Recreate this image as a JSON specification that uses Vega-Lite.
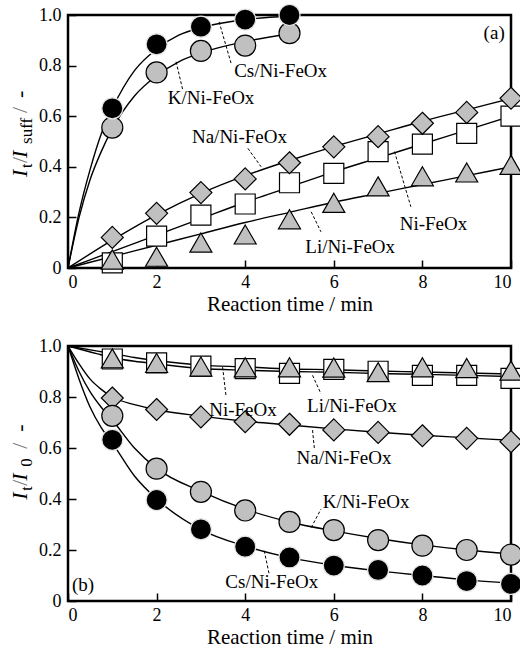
{
  "$schema": "https://vega.github.io/schema/vega-lite/v6.json",
  "padding": {"left": 7, "top": 0, "right": 0, "bottom": 0},
  "background": "white",
  "spacing": 19,
  "config": {
    "font": "Liberation Serif",
    "view": {"stroke": "black", "strokeWidth": 2.5},
    "axis": {
      "grid": false, "domain": false,
      "tickColor": "black", "tickWidth": 1.5, "tickSize": -8,
      "labelFont": "Liberation Serif", "labelFontSize": 18, "labelColor": "black",
      "titleFont": "Liberation Serif", "titleFontSize": 21, "titleFontWeight": "normal", "titleColor": "black", "titlePadding": 2
    },
    "axisX": {"labelPadding": 13},
    "axisY": {"labelPadding": 15},
    "text": {"font": "Liberation Serif", "color": "black"}
  },
  "datasets": {
    "pa": [
      {"t":1,"v":0.02,"s":"Ni"},{"t":2,"v":0.126,"s":"Ni"},{"t":3,"v":0.209,"s":"Ni"},{"t":4,"v":0.253,"s":"Ni"},{"t":5,"v":0.337,"s":"Ni"},{"t":6,"v":0.374,"s":"Ni"},{"t":7,"v":0.46,"s":"Ni"},{"t":8,"v":0.49,"s":"Ni"},{"t":9,"v":0.532,"s":"Ni"},{"t":10,"v":0.6,"s":"Ni"},
      {"t":1,"v":0.021,"s":"Li"},{"t":2,"v":0.032,"s":"Li"},{"t":3,"v":0.088,"s":"Li"},{"t":4,"v":0.12,"s":"Li"},{"t":5,"v":0.18,"s":"Li"},{"t":6,"v":0.245,"s":"Li"},{"t":7,"v":0.31,"s":"Li"},{"t":8,"v":0.35,"s":"Li"},{"t":9,"v":0.365,"s":"Li"},{"t":10,"v":0.395,"s":"Li"},
      {"t":1,"v":0.121,"s":"Na"},{"t":2,"v":0.216,"s":"Na"},{"t":3,"v":0.298,"s":"Na"},{"t":4,"v":0.352,"s":"Na"},{"t":5,"v":0.416,"s":"Na"},{"t":6,"v":0.479,"s":"Na"},{"t":7,"v":0.519,"s":"Na"},{"t":8,"v":0.572,"s":"Na"},{"t":9,"v":0.615,"s":"Na"},{"t":10,"v":0.671,"s":"Na"},
      {"t":1,"v":0.555,"s":"K"},{"t":2,"v":0.773,"s":"K"},{"t":3,"v":0.858,"s":"K"},{"t":4,"v":0.879,"s":"K"},{"t":5,"v":0.928,"s":"K"},
      {"t":1,"v":0.631,"s":"Cs"},{"t":2,"v":0.884,"s":"Cs"},{"t":3,"v":0.954,"s":"Cs"},{"t":4,"v":0.982,"s":"Cs"},{"t":5,"v":1.0,"s":"Cs"}
    ],
    "la": [
      {"t":0,"v":0,"s":"Cs"},{"t":0.25,"v":0.22,"s":"Cs"},{"t":0.5,"v":0.39,"s":"Cs"},{"t":0.75,"v":0.53,"s":"Cs"},{"t":1,"v":0.63,"s":"Cs"},{"t":1.5,"v":0.78,"s":"Cs"},{"t":2,"v":0.865,"s":"Cs"},{"t":2.5,"v":0.92,"s":"Cs"},{"t":3,"v":0.95,"s":"Cs"},{"t":4,"v":0.982,"s":"Cs"},{"t":5,"v":0.995,"s":"Cs"},
      {"t":0,"v":0,"s":"K"},{"t":0.25,"v":0.2,"s":"K"},{"t":0.5,"v":0.35,"s":"K"},{"t":0.75,"v":0.46,"s":"K"},{"t":1,"v":0.55,"s":"K"},{"t":1.5,"v":0.68,"s":"K"},{"t":2,"v":0.76,"s":"K"},{"t":2.5,"v":0.815,"s":"K"},{"t":3,"v":0.85,"s":"K"},{"t":4,"v":0.895,"s":"K"},{"t":5,"v":0.925,"s":"K"},
      {"t":0,"v":0,"s":"Na"},{"t":1,"v":0.11,"s":"Na"},{"t":2,"v":0.21,"s":"Na"},{"t":3,"v":0.295,"s":"Na"},{"t":4,"v":0.365,"s":"Na"},{"t":5,"v":0.425,"s":"Na"},{"t":6,"v":0.48,"s":"Na"},{"t":7,"v":0.53,"s":"Na"},{"t":8,"v":0.58,"s":"Na"},{"t":9,"v":0.625,"s":"Na"},{"t":10,"v":0.67,"s":"Na"},
      {"t":0,"v":0,"s":"Ni"},{"t":1,"v":0.065,"s":"Ni"},{"t":2,"v":0.13,"s":"Ni"},{"t":3,"v":0.195,"s":"Ni"},{"t":4,"v":0.26,"s":"Ni"},{"t":5,"v":0.32,"s":"Ni"},{"t":6,"v":0.38,"s":"Ni"},{"t":7,"v":0.435,"s":"Ni"},{"t":8,"v":0.49,"s":"Ni"},{"t":9,"v":0.545,"s":"Ni"},{"t":10,"v":0.6,"s":"Ni"},
      {"t":0,"v":0,"s":"Li"},{"t":1,"v":0.045,"s":"Li"},{"t":2,"v":0.09,"s":"Li"},{"t":3,"v":0.135,"s":"Li"},{"t":4,"v":0.18,"s":"Li"},{"t":5,"v":0.22,"s":"Li"},{"t":6,"v":0.26,"s":"Li"},{"t":7,"v":0.295,"s":"Li"},{"t":8,"v":0.33,"s":"Li"},{"t":9,"v":0.365,"s":"Li"},{"t":10,"v":0.4,"s":"Li"}
    ],
    "ta": [
      {"t":4.8,"v":0.78,"label":"Cs/Ni-FeOx"},
      {"t":3.23,"v":0.67,"label":"K/Ni-FeOx"},
      {"t":3.87,"v":0.519,"label":"Na/Ni-FeOx"},
      {"t":8.25,"v":0.174,"label":"Ni-FeOx"},
      {"t":6.37,"v":0.082,"label":"Li/Ni-FeOx"},
      {"t":9.62,"v":0.928,"label":"(a)"}
    ],
    "da": [
      {"t":3.41,"v":0.973,"t2":3.68,"v2":0.81},
      {"t":2.44,"v":0.815,"t2":2.59,"v2":0.704},
      {"t":4.06,"v":0.473,"t2":4.36,"v2":0.4},
      {"t":7.37,"v":0.46,"t2":7.74,"v2":0.242},
      {"t":5.49,"v":0.222,"t2":5.71,"v2":0.143}
    ],
    "pb": [
      {"t":1,"v":0.949,"s":"Ni"},{"t":2,"v":0.934,"s":"Ni"},{"t":3,"v":0.921,"s":"Ni"},{"t":4,"v":0.911,"s":"Ni"},{"t":5,"v":0.893,"s":"Ni"},{"t":6,"v":0.908,"s":"Ni"},{"t":7,"v":0.901,"s":"Ni"},{"t":8,"v":0.885,"s":"Ni"},{"t":9,"v":0.885,"s":"Ni"},{"t":10,"v":0.873,"s":"Ni"},
      {"t":1,"v":0.939,"s":"Li"},{"t":2,"v":0.921,"s":"Li"},{"t":3,"v":0.907,"s":"Li"},{"t":4,"v":0.904,"s":"Li"},{"t":5,"v":0.904,"s":"Li"},{"t":6,"v":0.903,"s":"Li"},{"t":7,"v":0.885,"s":"Li"},{"t":8,"v":0.904,"s":"Li"},{"t":9,"v":0.901,"s":"Li"},{"t":10,"v":0.891,"s":"Li"},
      {"t":1,"v":0.796,"s":"Na"},{"t":2,"v":0.751,"s":"Na"},{"t":3,"v":0.722,"s":"Na"},{"t":4,"v":0.703,"s":"Na"},{"t":5,"v":0.693,"s":"Na"},{"t":6,"v":0.671,"s":"Na"},{"t":7,"v":0.661,"s":"Na"},{"t":8,"v":0.648,"s":"Na"},{"t":9,"v":0.638,"s":"Na"},{"t":10,"v":0.625,"s":"Na"},
      {"t":1,"v":0.726,"s":"K"},{"t":2,"v":0.519,"s":"K"},{"t":3,"v":0.428,"s":"K"},{"t":4,"v":0.355,"s":"K"},{"t":5,"v":0.31,"s":"K"},{"t":6,"v":0.278,"s":"K"},{"t":7,"v":0.239,"s":"K"},{"t":8,"v":0.217,"s":"K"},{"t":9,"v":0.2,"s":"K"},{"t":10,"v":0.182,"s":"K"},
      {"t":1,"v":0.632,"s":"Cs"},{"t":2,"v":0.396,"s":"Cs"},{"t":3,"v":0.281,"s":"Cs"},{"t":4,"v":0.213,"s":"Cs"},{"t":5,"v":0.171,"s":"Cs"},{"t":6,"v":0.139,"s":"Cs"},{"t":7,"v":0.122,"s":"Cs"},{"t":8,"v":0.1,"s":"Cs"},{"t":9,"v":0.078,"s":"Cs"},{"t":10,"v":0.067,"s":"Cs"}
    ],
    "lb": [
      {"t":0,"v":1,"s":"Li"},{"t":0.67,"v":0.98,"s":"Li"},{"t":1,"v":0.97,"s":"Li"},{"t":1.5,"v":0.955,"s":"Li"},{"t":2,"v":0.943,"s":"Li"},{"t":3,"v":0.925,"s":"Li"},{"t":4,"v":0.918,"s":"Li"},{"t":5,"v":0.91,"s":"Li"},{"t":6,"v":0.907,"s":"Li"},{"t":7,"v":0.902,"s":"Li"},{"t":8,"v":0.898,"s":"Li"},{"t":9,"v":0.894,"s":"Li"},{"t":10,"v":0.89,"s":"Li"},
      {"t":0,"v":1,"s":"Ni"},{"t":0.67,"v":0.969,"s":"Ni"},{"t":1,"v":0.955,"s":"Ni"},{"t":1.5,"v":0.94,"s":"Ni"},{"t":2,"v":0.93,"s":"Ni"},{"t":3,"v":0.912,"s":"Ni"},{"t":4,"v":0.905,"s":"Ni"},{"t":5,"v":0.9,"s":"Ni"},{"t":6,"v":0.897,"s":"Ni"},{"t":7,"v":0.892,"s":"Ni"},{"t":8,"v":0.889,"s":"Ni"},{"t":9,"v":0.885,"s":"Ni"},{"t":10,"v":0.88,"s":"Ni"},
      {"t":0,"v":1,"s":"Na"},{"t":0.25,"v":0.93,"s":"Na"},{"t":0.5,"v":0.87,"s":"Na"},{"t":0.75,"v":0.83,"s":"Na"},{"t":1,"v":0.8,"s":"Na"},{"t":1.5,"v":0.77,"s":"Na"},{"t":2,"v":0.75,"s":"Na"},{"t":3,"v":0.725,"s":"Na"},{"t":4,"v":0.705,"s":"Na"},{"t":5,"v":0.69,"s":"Na"},{"t":6,"v":0.675,"s":"Na"},{"t":7,"v":0.662,"s":"Na"},{"t":8,"v":0.65,"s":"Na"},{"t":9,"v":0.64,"s":"Na"},{"t":10,"v":0.63,"s":"Na"},
      {"t":0,"v":1,"s":"K"},{"t":0.25,"v":0.9,"s":"K"},{"t":0.5,"v":0.82,"s":"K"},{"t":0.75,"v":0.76,"s":"K"},{"t":1,"v":0.71,"s":"K"},{"t":1.5,"v":0.6,"s":"K"},{"t":2,"v":0.52,"s":"K"},{"t":3,"v":0.43,"s":"K"},{"t":4,"v":0.36,"s":"K"},{"t":5,"v":0.31,"s":"K"},{"t":6,"v":0.275,"s":"K"},{"t":7,"v":0.245,"s":"K"},{"t":8,"v":0.22,"s":"K"},{"t":9,"v":0.2,"s":"K"},{"t":10,"v":0.185,"s":"K"},
      {"t":0,"v":1,"s":"Cs"},{"t":0.25,"v":0.87,"s":"Cs"},{"t":0.5,"v":0.76,"s":"Cs"},{"t":0.75,"v":0.68,"s":"Cs"},{"t":1,"v":0.62,"s":"Cs"},{"t":1.5,"v":0.49,"s":"Cs"},{"t":2,"v":0.4,"s":"Cs"},{"t":3,"v":0.28,"s":"Cs"},{"t":4,"v":0.215,"s":"Cs"},{"t":5,"v":0.17,"s":"Cs"},{"t":6,"v":0.14,"s":"Cs"},{"t":7,"v":0.118,"s":"Cs"},{"t":8,"v":0.1,"s":"Cs"},{"t":9,"v":0.083,"s":"Cs"},{"t":10,"v":0.07,"s":"Cs"}
    ],
    "tb": [
      {"t":3.95,"v":0.748,"label":"Ni-FeOx"},
      {"t":6.41,"v":0.765,"label":"Li/Ni-FeOx"},
      {"t":6.23,"v":0.56,"label":"Na/Ni-FeOx"},
      {"t":6.73,"v":0.389,"label":"K/Ni-FeOx"},
      {"t":4.6,"v":0.074,"label":"Cs/Ni-FeOx"},
      {"t":0.34,"v":0.061,"label":"(b)"}
    ],
    "db": [
      {"t":3.49,"v":0.917,"t2":3.57,"v2":0.8},
      {"t":5.52,"v":0.885,"t2":5.71,"v2":0.813},
      {"t":5.52,"v":0.67,"t2":5.56,"v2":0.6},
      {"t":5.49,"v":0.288,"t2":5.71,"v2":0.36},
      {"t":4.43,"v":0.197,"t2":4.54,"v2":0.106}
    ],
    "ya": [
      {"t":-0.925,"v":0.36,"p":"I1"},{"t":-0.925,"v":0.36,"p":"t"},{"t":-0.925,"v":0.36,"p":"s1"},{"t":-0.925,"v":0.36,"p":"I2"},{"t":-0.925,"v":0.36,"p":"sub"},{"t":-0.925,"v":0.36,"p":"s2"},{"t":-0.925,"v":0.36,"p":"dash"}
    ],
    "yb": [
      {"t":-0.925,"v":0.397,"p":"I1"},{"t":-0.925,"v":0.397,"p":"t"},{"t":-0.925,"v":0.397,"p":"s1"},{"t":-0.925,"v":0.397,"p":"I2"},{"t":-0.925,"v":0.397,"p":"sub"},{"t":-0.925,"v":0.397,"p":"s2"},{"t":-0.925,"v":0.397,"p":"dash"}
    ]
  },
  "vconcat": [
    {
      "width": 443, "height": 253,
      "encoding": {
        "x": {"field": "t", "type": "quantitative", "scale": {"domain": [0, 10]}, "axis": {"values": [0, 2, 4, 6, 8, 10], "format": "d", "title": "Reaction time / min"}},
        "y": {"field": "v", "type": "quantitative", "scale": {"domain": [0, 1]}, "axis": {"values": [0, 0.2, 0.4, 0.6, 0.8, 1], "labelExpr": "datum.value == 0 ? '0' : format(datum.value, '.1f')", "title": null}}
      },
      "layer": [
        {"data": {"name": "la"}, "mark": {"type": "line", "color": "black", "strokeWidth": 1.4, "interpolate": "monotone"}, "encoding": {"detail": {"field": "s", "type": "nominal"}}},
        {"data": {"name": "da"}, "mark": {"type": "rule", "color": "black", "strokeWidth": 1, "strokeDash": [3, 2]}, "encoding": {"x2": {"field": "t2"}, "y2": {"field": "v2"}}},
        {"data": {"name": "pa"}, "mark": {"type": "point", "filled": true, "opacity": 1, "size": 484, "strokeWidth": 1.2},
          "encoding": {
            "shape": {"field": "s", "type": "nominal", "legend": null, "scale": {"domain": ["Cs", "K", "Na", "Ni", "Li"], "range": ["M0.955,0A0.955,0.955 0 1,1 -0.955,0A0.955,0.955 0 1,1 0.955,0Z", "M0.955,0A0.955,0.955 0 1,1 -0.955,0A0.955,0.955 0 1,1 0.955,0Z", "M0,-1L1,0L0,1L-1,0Z", "M-0.909,-0.909L0.909,-0.909L0.909,0.909L-0.909,0.909Z", "M0,-1.155L1,0.577L-1,0.577Z"]}},
            "fill": {"field": "s", "type": "nominal", "legend": null, "scale": {"domain": ["Cs", "K", "Na", "Ni", "Li"], "range": ["black", "#c0c0c0", "#c0c0c0", "white", "#c0c0c0"]}},
            "stroke": {"field": "s", "type": "nominal", "legend": null, "scale": {"domain": ["Cs", "K", "Na", "Ni", "Li"], "range": ["#e6e6e6", "black", "black", "black", "black"]}}
          }},
        {"data": {"name": "ta"}, "mark": {"type": "text", "fontSize": 19, "align": "center", "baseline": "middle"}, "encoding": {"text": {"field": "label", "type": "nominal"}}},
        {"data": {"name": "ya"}, "transform": [{"filter": "datum.p == 'I1'"}], "mark": {"type": "text", "angle": 270, "align": "left", "baseline": "alphabetic", "fontSize": 22, "fontStyle": "italic", "text": "I", "dx": 0}},
        {"data": {"name": "ya"}, "transform": [{"filter": "datum.p == 't'"}], "mark": {"type": "text", "angle": 270, "align": "left", "baseline": "alphabetic", "fontSize": 16, "text": "t", "dx": 9, "dy": 5}},
        {"data": {"name": "ya"}, "transform": [{"filter": "datum.p == 's1'"}], "mark": {"type": "text", "angle": 270, "align": "left", "baseline": "alphabetic", "fontSize": 22, "text": "/", "dx": 14, "color": "#777777"}},
        {"data": {"name": "ya"}, "transform": [{"filter": "datum.p == 'I2'"}], "mark": {"type": "text", "angle": 270, "align": "left", "baseline": "alphabetic", "fontSize": 22, "fontStyle": "italic", "text": "I", "dx": 19}},
        {"data": {"name": "ya"}, "transform": [{"filter": "datum.p == 'sub'"}], "mark": {"type": "text", "angle": 270, "align": "left", "baseline": "alphabetic", "fontSize": 17, "text": "suff", "dx": 33, "dy": 5}},
        {"data": {"name": "ya"}, "transform": [{"filter": "datum.p == 's2'"}], "mark": {"type": "text", "angle": 270, "align": "left", "baseline": "alphabetic", "fontSize": 22, "text": "/", "dx": 64, "color": "#777777"}},
        {"data": {"name": "ya"}, "transform": [{"filter": "datum.p == 'dash'"}], "mark": {"type": "text", "angle": 270, "align": "left", "baseline": "alphabetic", "fontSize": 22, "text": "-", "dx": 79}}
      ]
    },
    {
      "width": 443, "height": 255,
      "encoding": {
        "x": {"field": "t", "type": "quantitative", "scale": {"domain": [0, 10]}, "axis": {"values": [0, 2, 4, 6, 8, 10], "format": "d", "title": "Reaction time / min"}},
        "y": {"field": "v", "type": "quantitative", "scale": {"domain": [0, 1]}, "axis": {"values": [0, 0.2, 0.4, 0.6, 0.8, 1], "labelExpr": "datum.value == 0 ? '0' : format(datum.value, '.1f')", "title": null}}
      },
      "layer": [
        {"data": {"name": "lb"}, "mark": {"type": "line", "color": "black", "strokeWidth": 1.4, "interpolate": "monotone"}, "encoding": {"detail": {"field": "s", "type": "nominal"}}},
        {"data": {"name": "db"}, "mark": {"type": "rule", "color": "black", "strokeWidth": 1, "strokeDash": [3, 2]}, "encoding": {"x2": {"field": "t2"}, "y2": {"field": "v2"}}},
        {"data": {"name": "pb"}, "mark": {"type": "point", "filled": true, "opacity": 1, "size": 484, "strokeWidth": 1.2},
          "encoding": {
            "shape": {"field": "s", "type": "nominal", "legend": null, "scale": {"domain": ["Cs", "K", "Na", "Ni", "Li"], "range": ["M0.955,0A0.955,0.955 0 1,1 -0.955,0A0.955,0.955 0 1,1 0.955,0Z", "M0.955,0A0.955,0.955 0 1,1 -0.955,0A0.955,0.955 0 1,1 0.955,0Z", "M0,-1L1,0L0,1L-1,0Z", "M-0.909,-0.909L0.909,-0.909L0.909,0.909L-0.909,0.909Z", "M0,-1.155L1,0.577L-1,0.577Z"]}},
            "fill": {"field": "s", "type": "nominal", "legend": null, "scale": {"domain": ["Cs", "K", "Na", "Ni", "Li"], "range": ["black", "#c0c0c0", "#c0c0c0", "white", "#c0c0c0"]}},
            "stroke": {"field": "s", "type": "nominal", "legend": null, "scale": {"domain": ["Cs", "K", "Na", "Ni", "Li"], "range": ["#e6e6e6", "black", "black", "black", "black"]}}
          }},
        {"data": {"name": "tb"}, "mark": {"type": "text", "fontSize": 19, "align": "center", "baseline": "middle"}, "encoding": {"text": {"field": "label", "type": "nominal"}}},
        {"data": {"name": "yb"}, "transform": [{"filter": "datum.p == 'I1'"}], "mark": {"type": "text", "angle": 270, "align": "left", "baseline": "alphabetic", "fontSize": 22, "fontStyle": "italic", "text": "I", "dx": 0}},
        {"data": {"name": "yb"}, "transform": [{"filter": "datum.p == 't'"}], "mark": {"type": "text", "angle": 270, "align": "left", "baseline": "alphabetic", "fontSize": 16, "text": "t", "dx": 9, "dy": 5}},
        {"data": {"name": "yb"}, "transform": [{"filter": "datum.p == 's1'"}], "mark": {"type": "text", "angle": 270, "align": "left", "baseline": "alphabetic", "fontSize": 22, "text": "/", "dx": 14, "color": "#777777"}},
        {"data": {"name": "yb"}, "transform": [{"filter": "datum.p == 'I2'"}], "mark": {"type": "text", "angle": 270, "align": "left", "baseline": "alphabetic", "fontSize": 22, "fontStyle": "italic", "text": "I", "dx": 19}},
        {"data": {"name": "yb"}, "transform": [{"filter": "datum.p == 'sub'"}], "mark": {"type": "text", "angle": 270, "align": "left", "baseline": "alphabetic", "fontSize": 17, "text": "0", "dx": 33, "dy": 5}},
        {"data": {"name": "yb"}, "transform": [{"filter": "datum.p == 's2'"}], "mark": {"type": "text", "angle": 270, "align": "left", "baseline": "alphabetic", "fontSize": 22, "text": "/", "dx": 51, "color": "#777777"}},
        {"data": {"name": "yb"}, "transform": [{"filter": "datum.p == 'dash'"}], "mark": {"type": "text", "angle": 270, "align": "left", "baseline": "alphabetic", "fontSize": 22, "text": "-", "dx": 68}}
      ]
    }
  ]
}
